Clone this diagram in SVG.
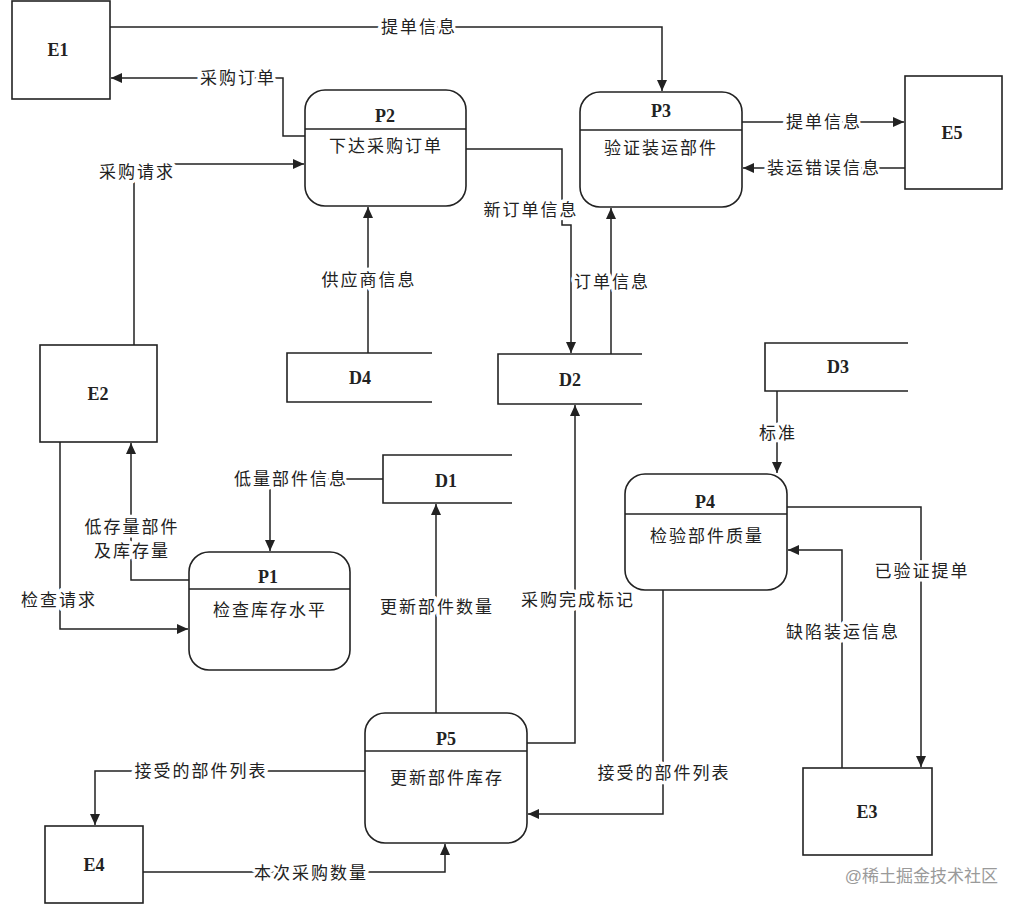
<svg xmlns="http://www.w3.org/2000/svg" width="1022" height="909" viewBox="0 0 1022 909">
<style>
.box{fill:#fff;stroke:#222;stroke-width:1.6}
.store{fill:none;stroke:#222;stroke-width:1.6}
.div{stroke:#222;stroke-width:1.6}
.ent{font-family:"Liberation Serif",serif;font-size:18px;font-weight:bold;fill:#222;text-anchor:middle;dominant-baseline:central}
.pid{font-family:"Liberation Serif",serif;font-size:18px;font-weight:bold;fill:#222;text-anchor:middle;dominant-baseline:central}
.pname{font-family:"Liberation Sans","Noto Sans CJK SC",sans-serif;font-size:17px;letter-spacing:2px;fill:#222;text-anchor:middle;dominant-baseline:central}
.flow{fill:none;stroke:#222;stroke-width:1.5}
.lbl{font-family:"Liberation Sans","Noto Sans CJK SC",sans-serif;font-size:17px;letter-spacing:2px;fill:#222;text-anchor:middle;dominant-baseline:central;stroke:#fff;stroke-width:7px;paint-order:stroke;stroke-linejoin:round}
.wm{font-family:"Liberation Sans","Noto Sans CJK SC",sans-serif;font-size:17px;fill:#9a9a9a;text-anchor:end;dominant-baseline:central}
</style>
<defs>
<marker id="arr" markerUnits="userSpaceOnUse" markerWidth="12" markerHeight="10" refX="11" refY="5" orient="auto">
<path d="M0,0 L11,5 L0,10 z" fill="#222"/>
</marker>
</defs>
<rect width="1022" height="909" fill="#fff"/>

<g id="connectors">
<path class="flow" d="M110,27 H662 V91" marker-end="url(#arr)"/>
<text class="lbl" x="419" y="27">提单信息</text>
<path class="flow" d="M305,136 H283 V78 H111" marker-end="url(#arr)"/>
<text class="lbl" x="238" y="78">采购订单</text>
<path class="flow" d="M134,345 V164 H304" marker-end="url(#arr)"/>
<text class="lbl" x="137" y="172">采购请求</text>
<path class="flow" d="M368,353 V207" marker-end="url(#arr)"/>
<text class="lbl" x="369" y="280">供应商信息</text>
<path class="flow" d="M466,149 H562 V225 H571 V353" marker-end="url(#arr)"/>
<text class="lbl" x="531" y="210">新订单信息</text>
<path class="flow" d="M611,354 V208" marker-end="url(#arr)"/>
<text class="lbl" x="612" y="282">订单信息</text>
<path class="flow" d="M742,122 H904" marker-end="url(#arr)"/>
<text class="lbl" x="824" y="122">提单信息</text>
<path class="flow" d="M905,168 H743" marker-end="url(#arr)"/>
<text class="lbl" x="824" y="168">装运错误信息</text>
<path class="flow" d="M777,391 V473" marker-end="url(#arr)"/>
<text class="lbl" x="778" y="433">标准</text>
<path class="flow" d="M787,507 H921 V767" marker-end="url(#arr)"/>
<text class="lbl" x="922" y="571">已验证提单</text>
<path class="flow" d="M842,768 V550 H788" marker-end="url(#arr)"/>
<text class="lbl" x="843" y="632">缺陷装运信息</text>
<path class="flow" d="M663,590 V814 H528" marker-end="url(#arr)"/>
<text class="lbl" x="664" y="773">接受的部件列表</text>
<path class="flow" d="M527,743 H575 V405" marker-end="url(#arr)"/>
<text class="lbl" x="578" y="600">采购完成标记</text>
<path class="flow" d="M436,713 V504" marker-end="url(#arr)"/>
<text class="lbl" x="437" y="607">更新部件数量</text>
<path class="flow" d="M383,479 H270 V551" marker-end="url(#arr)"/>
<text class="lbl" x="291" y="479">低量部件信息</text>
<path class="flow" d="M189,580 H131 V443" marker-end="url(#arr)"/>
<text class="lbl" x="132" y="527">低存量部件</text>
<text class="lbl" x="132" y="551">及库存量</text>
<path class="flow" d="M60,442 V629 H188" marker-end="url(#arr)"/>
<text class="lbl" x="59" y="600">检查请求</text>
<path class="flow" d="M365,771 H95 V825" marker-end="url(#arr)"/>
<text class="lbl" x="201" y="771">接受的部件列表</text>
<path class="flow" d="M143,872 H445 V844" marker-end="url(#arr)"/>
<text class="lbl" x="311" y="873">本次采购数量</text>
</g>

<g id="E1"><rect class="box" x="12" y="1" width="98" height="98"/><text class="ent" x="58" y="50">E1</text></g>
<g id="E2"><rect class="box" x="40" y="345" width="117" height="97"/><text class="ent" x="98" y="394">E2</text></g>
<g id="E3"><rect class="box" x="803" y="768" width="129" height="87"/><text class="ent" x="867" y="812">E3</text></g>
<g id="E4"><rect class="box" x="45" y="826" width="98" height="77"/><text class="ent" x="94" y="865">E4</text></g>
<g id="E5"><rect class="box" x="905" y="76" width="97" height="113"/><text class="ent" x="952" y="133">E5</text></g>

<g id="P1"><rect class="box" x="189" y="552" width="161" height="118" rx="20"/><line class="div" x1="189" y1="589" x2="350" y2="589"/><text class="pid" x="268" y="577">P1</text><text class="pname" x="270" y="610">检查库存水平</text></g>
<g id="P2"><rect class="box" x="305" y="90" width="161" height="116" rx="20"/><line class="div" x1="305" y1="129" x2="466" y2="129"/><text class="pid" x="385" y="116">P2</text><text class="pname" x="386" y="146">下达采购订单</text></g>
<g id="P3"><rect class="box" x="580" y="92" width="162" height="115" rx="20"/><line class="div" x1="580" y1="130" x2="742" y2="130"/><text class="pid" x="661" y="111">P3</text><text class="pname" x="661" y="148">验证装运部件</text></g>
<g id="P4"><rect class="box" x="625" y="474" width="162" height="116" rx="20"/><line class="div" x1="625" y1="514" x2="787" y2="514"/><text class="pid" x="705" y="502">P4</text><text class="pname" x="707" y="536">检验部件质量</text></g>
<g id="P5"><rect class="box" x="365" y="713" width="162" height="130" rx="20"/><line class="div" x1="365" y1="751" x2="527" y2="751"/><text class="pid" x="446" y="739">P5</text><text class="pname" x="447" y="778">更新部件库存</text></g>

<g id="D1"><path class="store" d="M512,455 H383 V503 H512"/><text class="ent" x="446" y="481">D1</text></g>
<g id="D2"><path class="store" d="M642,354 H498 V404 H642"/><text class="ent" x="570" y="380">D2</text></g>
<g id="D3"><path class="store" d="M908,343 H765 V391 H908"/><text class="ent" x="838" y="367">D3</text></g>
<g id="D4"><path class="store" d="M432,353 H287 V402 H432"/><text class="ent" x="360" y="378">D4</text></g>

<text class="wm" x="998" y="876">@稀土掘金技术社区</text>
</svg>
